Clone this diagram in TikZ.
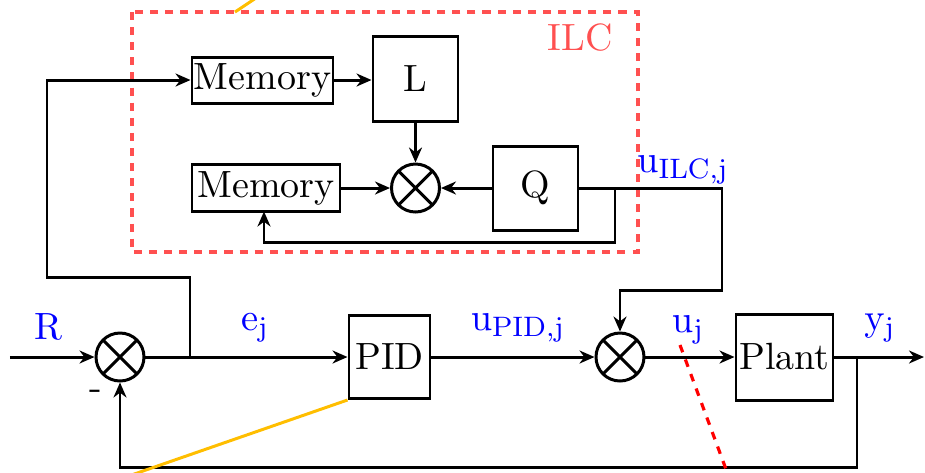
\documentclass[tikz,border=0pt]{standalone}
\usetikzlibrary{arrows.meta}
\definecolor{ilcred}{RGB}{255,80,80}
\definecolor{ylwc}{RGB}{255,190,0}
\begin{document}
\begin{tikzpicture}[x=0.1mm,y=-0.1mm,
  line width=0.85pt,
  font=\fontsize{10.8}{13}\selectfont,
  >={Stealth[length=1.5mm,width=1.3mm]},
  blk/.style={draw,line width=0.85pt,inner sep=0pt},
  sumnode/.style={draw,circle,line width=0.85pt,minimum size=4.8mm,inner sep=0pt,
    path picture={\draw[line width=0.85pt] (path picture bounding box.south west)--(path picture bounding box.north east)
      (path picture bounding box.north west)--(path picture bounding box.south east);}},
  lbl/.style={text=blue,inner sep=0pt},
  ylw/.style={draw=ylwc,line width=0.85pt},
]
\clip (0,0) rectangle (925,472);
\useasboundingbox (0,0) rectangle (925,472);
% ILC box
\draw[ilcred,line width=0.9pt,dash pattern=on 2.3pt off 2pt] (132,12) rectangle (638,252);
\node[text=ilcred,inner sep=0pt] (ilc) at (580,38) {ILC};
% nodes
\node[sumnode] (s1) at (120,357) {};
\node[blk,minimum width=8.1mm,minimum height=8.3mm] (pid) at (389.5,357) {PID};
\node[sumnode] (s2) at (620,357) {};
\node[blk,minimum width=9.7mm,minimum height=8.6mm] (plant) at (784.5,357) {Plant};
\node[blk,minimum width=14.1mm,minimum height=4.6mm] (m1) at (262.5,80) {Memory};
\node[blk,minimum width=8.5mm,minimum height=8.5mm] (L) at (415.5,78.5) {L};
\node[sumnode] (mx) at (415.5,188) {};
\node[blk,minimum width=14.8mm,minimum height=4.7mm] (m2) at (266,188) {Memory};
\node[blk,minimum width=8.5mm,minimum height=8.4mm] (Q) at (535.5,188) {Q};
% coordinates
\coordinate (in) at (10,357);
\coordinate (out) at (924,357);
\coordinate (b1) at (190,357);
\coordinate (b2) at (857,357);
\coordinate (bq) at (615,188);
% main loop
\draw[->] (in) -- (s1.west);
\draw[->] (s1.east) -- (pid.west);
\draw[->] (pid.east) -- (s2.west);
\draw[->] (s2.east) -- (plant.west);
\draw[->] (plant.east) -- (out);
\draw[->] (b2) -- (857,467) -- (120,467) -- (s1.south);
\draw[->] (b1) -- (190,277) -- (47,277) -- (47,80) -- (m1.west);
% ILC internals
\draw[->] (m1.east) -- (L.west |- m1.east);
\draw[->] (L.south) -- (mx.north);
\draw[->] (m2.east) -- (mx.west);
\draw[->] (Q.west) -- (mx.east);
\draw[->] (Q.east) -- (722,188) -- (722,290) -- (620,290) -- (s2.north);
\draw[->] (bq) -- (615,242) -- (264,242) -- (264,211.5);
% labels
\node[lbl] (lR) at (48,327) {R};
\node[lbl] (le) at (255,328) {$\mathrm{e_j}$};
\node[lbl] (lupid) at (518,328) {$\mathrm{u_{PID,j}}$};
\node[lbl] (luj) at (688,330) {$\mathrm{u_j}$};
\node[lbl] (ly) at (880,328) {$\mathrm{y_j}$};
\node[lbl] (luilc) at (683,170) {$\mathrm{u_{ILC,j}}$};
\node[inner sep=0pt] (minus) at (96,395) {-};
% annotation lines
\draw[ylw] (235,12) -- (265,-8);
\draw[ylw] (pid.south west) -- (120,479);
\draw[red,line width=0.9pt,dash pattern=on 2.2pt off 2.2pt] (680,345) -- (730,480);
\end{tikzpicture}
\end{document}
